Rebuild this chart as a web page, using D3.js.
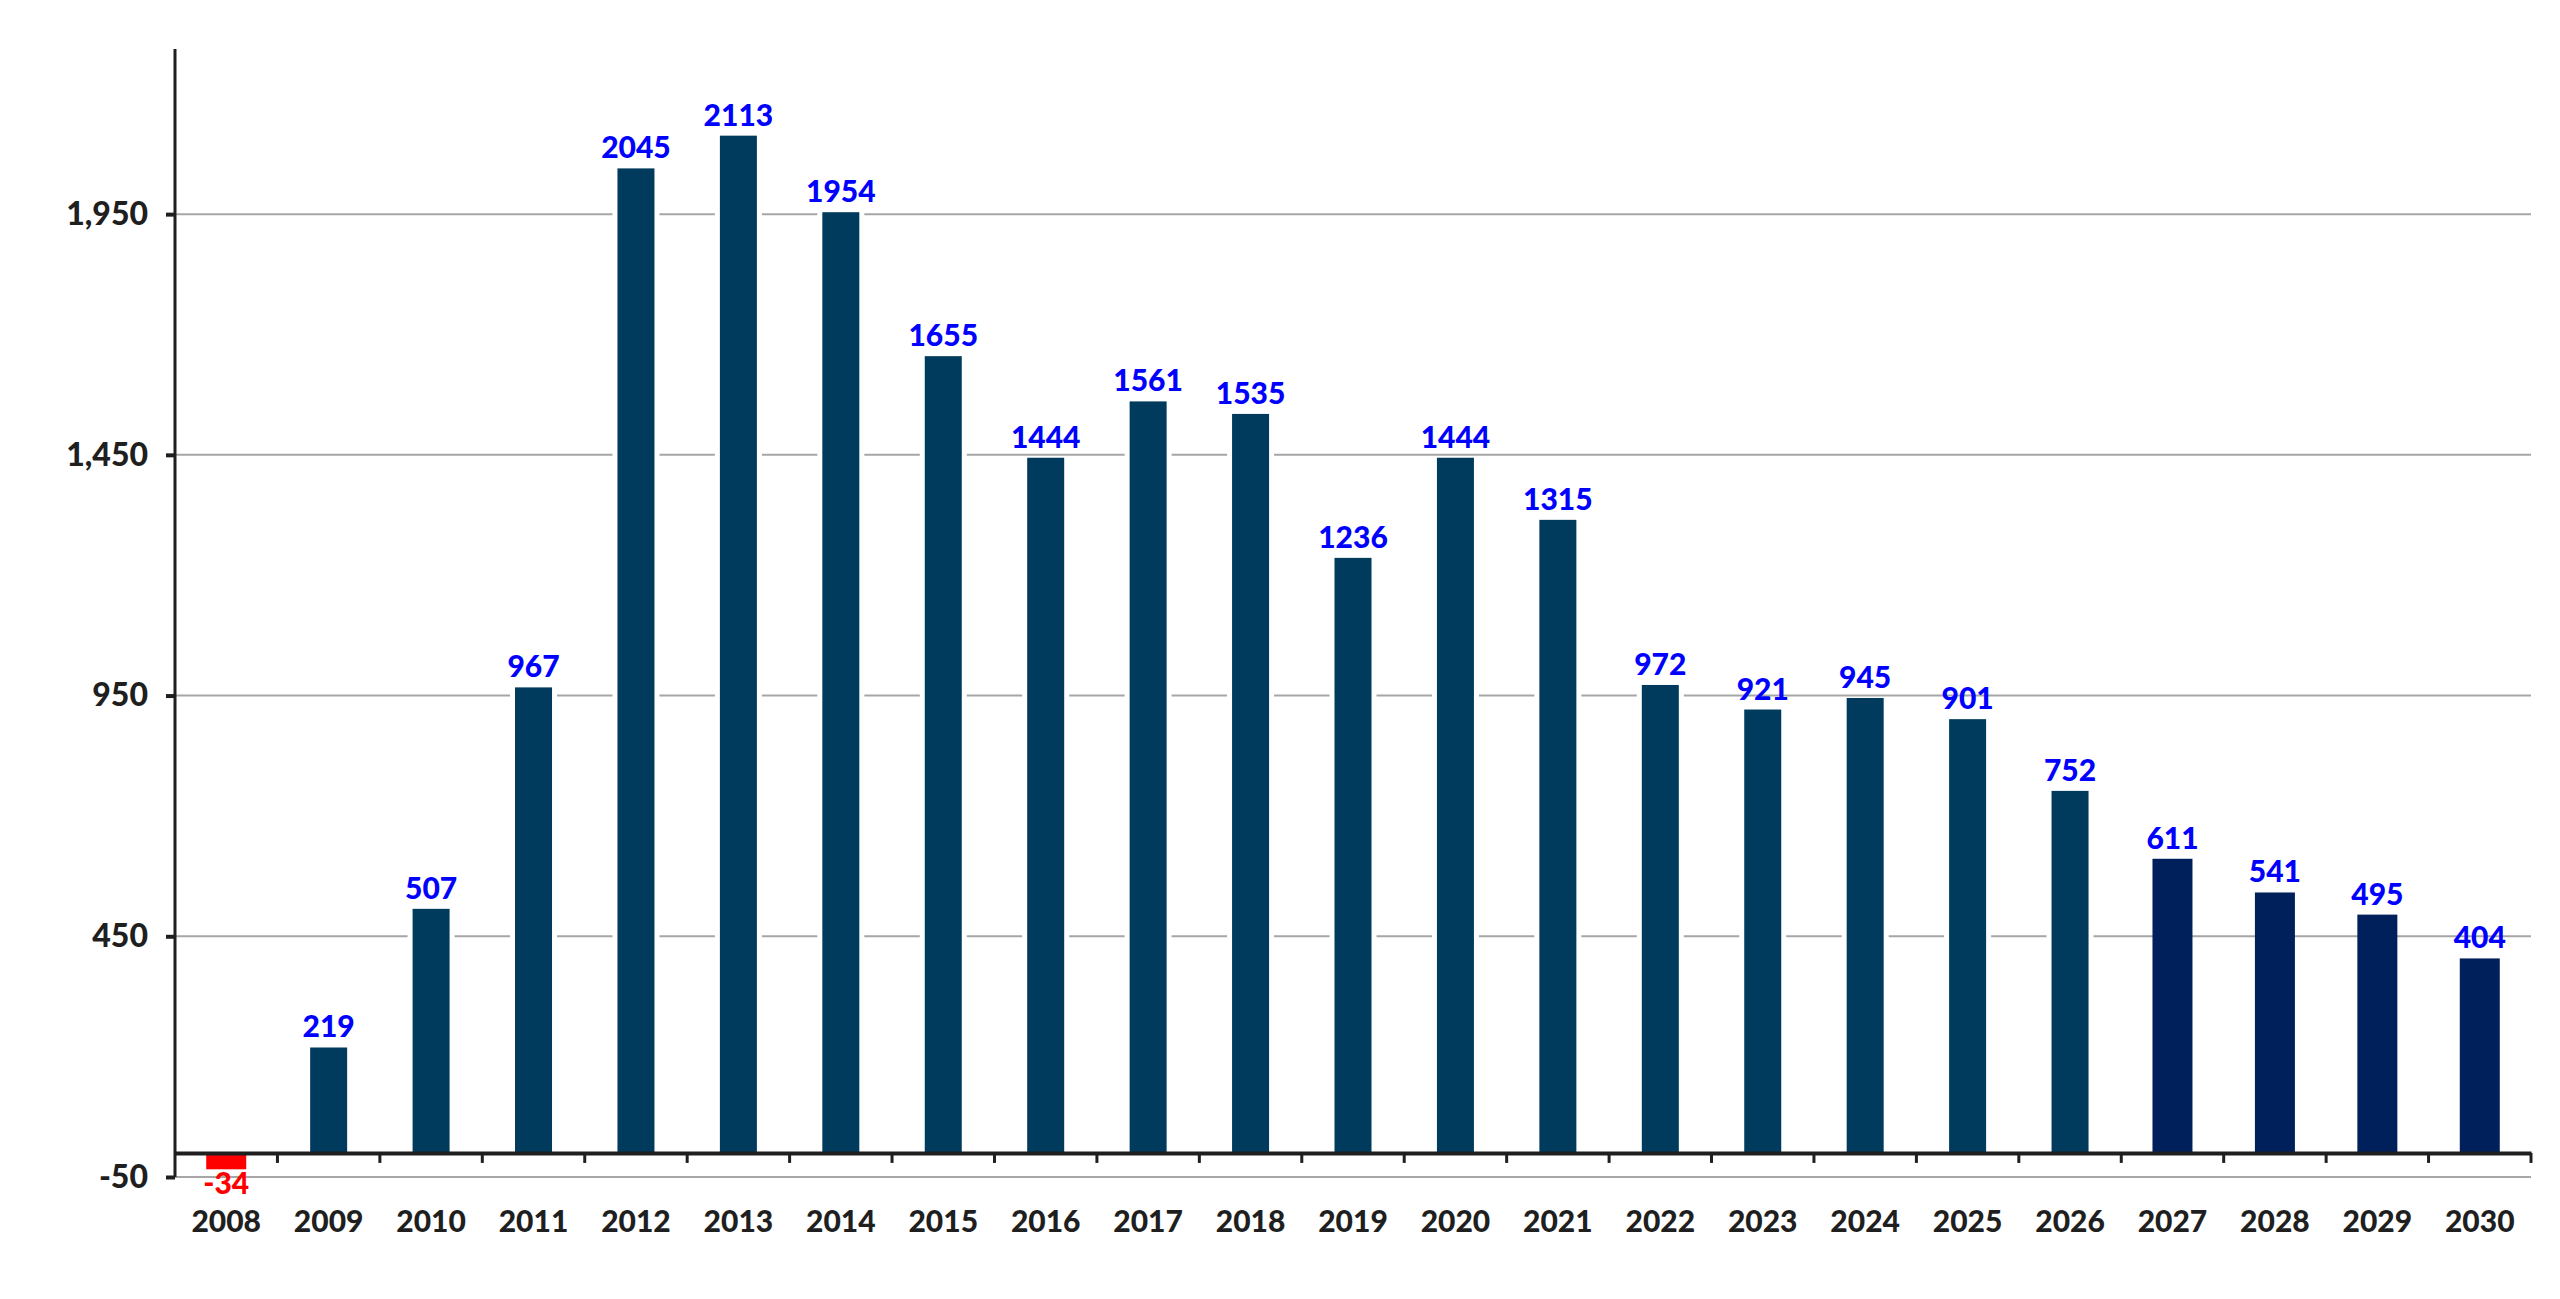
<!DOCTYPE html>
<html lang="en">
<head>
  <meta charset="UTF-8">
  <title>Bar chart 2008-2030</title>
  <script src="https://d3js.org/d3.v7.min.js"></script>
  <style>
    body { margin: 0; background: #fff; }
    svg text { font-family: Lato, "Open Sans", sans-serif !important; font-weight: 900 !important; }
  </style>
</head>
<body>
<svg id="canvas" width="2560" height="1299"></svg>
<script>
  // values
  const years = ["2008","2009","2010","2011","2012","2013","2014","2015","2016","2017","2018","2019",
                 "2020","2021","2022","2023","2024","2025","2026","2027","2028","2029","2030"];
  const values = [-34, 219, 507, 967, 2045, 2113, 1954, 1655, 1444, 1561, 1535, 1236,
                  1444, 1315, 972, 921, 945, 901, 752, 611, 541, 495, 404];
  // last four years are drawn in the darker navy
  const forecastFrom = "2027";
  const yTicks = [-50, 450, 950, 1450, 1950];

  const svg = d3.select("#canvas");
  const mLeft = 175, mRight = 2531, mTop = 49, mBottom = 1177;

  const x = d3.scaleBand().domain(years).range([mLeft, mRight]);
  const y = d3.scaleLinear().domain([-50, 2293]).range([mBottom, mTop]);

  // gridlines
  svg.append("g").selectAll("line").data(yTicks).enter().append("line")
    .attr("x1", mLeft).attr("x2", mRight)
    .attr("y1", d => y(d)).attr("y2", d => y(d))
    .attr("stroke", "#a6a6a6").attr("stroke-width", 2);

  const isForecast = d => +d >= +forecastFrom;
  const barW = d => values[years.indexOf(d)] < 0 || isForecast(d) ? 40 : 37;

  // white backing behind historical bars (the gaps in the gridlines)
  svg.append("g").selectAll("rect").data(years.filter(d => !isForecast(d) && values[years.indexOf(d)] > 0))
    .enter().append("rect")
    .attr("x", d => x(d) + x.bandwidth() / 2 - barW(d) / 2 - 5)
    .attr("width", d => barW(d) + 10)
    .attr("y", d => y(values[years.indexOf(d)]) - 1)
    .attr("height", d => y(0) - y(values[years.indexOf(d)]) + 1)
    .attr("fill", "#fff");

  // bars
  svg.append("g").selectAll("rect").data(years).enter().append("rect")
    .attr("x", d => x(d) + x.bandwidth() / 2 - barW(d) / 2)
    .attr("width", d => barW(d))
    .attr("y", (d, i) => y(Math.max(0, values[i])))
    .attr("height", (d, i) => Math.abs(y(values[i]) - y(0)))
    .attr("fill", (d, i) => values[i] < 0 ? "#ff0000" : (isForecast(d) ? "#00205c" : "#003a5c"));

  // value labels
  svg.append("g").selectAll("text").data(years).enter().append("text")
    .attr("x", d => x(d) + x.bandwidth() / 2)
    .attr("y", (d, i) => values[i] < 0 ? y(values[i]) + 25 : y(values[i]) - 10)
    .attr("text-anchor", "middle")
    .attr("font-size", 30)
    .attr("fill", (d, i) => values[i] < 0 ? "#ff0000" : "#0000ff")
    .text((d, i) => values[i]);

  // x axis at zero
  const xAxis = svg.append("g").attr("transform", "translate(0," + y(0) + ")")
    .call(d3.axisBottom(x).tickSize(0).tickFormat(""));
  xAxis.select(".domain").attr("stroke", "#1f1f1f").attr("stroke-width", 4);
  xAxis.selectAll(".sep").data(years.slice(1).concat(["end"])).enter().append("line")
    .attr("x1", (d, i) => i < years.length - 1 ? x(d) : mRight)
    .attr("x2", (d, i) => i < years.length - 1 ? x(d) : mRight)
    .attr("y1", 0).attr("y2", 10)
    .attr("stroke", "#1f1f1f").attr("stroke-width", 3);

  // year labels below the chart
  svg.append("g").selectAll("text").data(years).enter().append("text")
    .attr("x", d => x(d) + x.bandwidth() / 2)
    .attr("y", 1232)
    .attr("text-anchor", "middle")
    .attr("font-size", 30)
    .attr("fill", "#1f1f1f")
    .text(d => d);

  // y axis
  const yAxis = svg.append("g").attr("transform", "translate(" + mLeft + ",0)")
    .call(d3.axisLeft(y).tickValues(yTicks).tickSize(9).tickPadding(18)
      .tickFormat(d => d3.format(",")(d).replace("\u2212", "-")));
  yAxis.select(".domain").attr("d", "M0," + mTop + "V" + mBottom).attr("stroke", "#1f1f1f").attr("stroke-width", 3);
  yAxis.selectAll(".tick line").attr("stroke", "#1f1f1f").attr("stroke-width", 4);
  yAxis.selectAll(".tick text").attr("font-size", 32).attr("fill", "#1f1f1f");
</script>
</body>
</html>
